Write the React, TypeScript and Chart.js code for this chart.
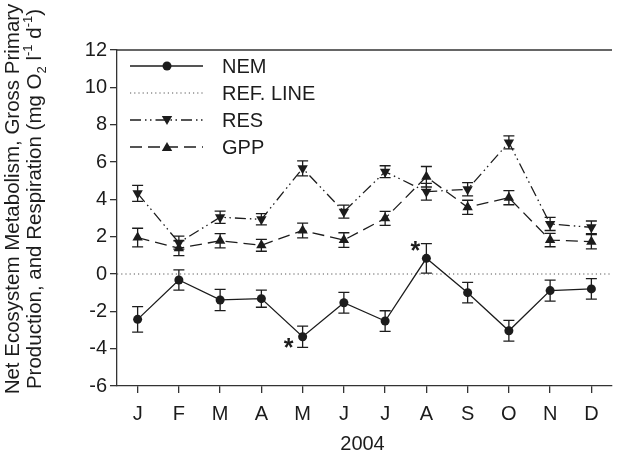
import React, { useEffect, useRef } from 'react';
import { Chart, registerables } from 'chart.js';

Chart.register(...registerables);

// ---- data ----
const months = ['J', 'F', 'M', 'A', 'M', 'J', 'J', 'A', 'S', 'O', 'N', 'D'];
const nemValues = [-2.43, -0.32, -1.39, -1.32, -3.36, -1.54, -2.52, 0.84, -1.0, -3.04, -0.89, -0.8];
const nemErrors = [0.68, 0.54, 0.57, 0.46, 0.57, 0.56, 0.55, 0.79, 0.55, 0.56, 0.56, 0.55];
const resValues = [4.32, 1.68, 3.04, 2.93, 5.66, 3.34, 5.48, 4.41, 4.54, 7.05, 2.68, 2.5];
const resErrors = [0.43, 0.35, 0.33, 0.3, 0.4, 0.35, 0.32, 0.45, 0.36, 0.35, 0.35, 0.34];
const gppValues = [1.95, 1.38, 1.78, 1.54, 2.33, 1.82, 2.98, 5.21, 3.57, 4.09, 1.82, 1.73];
const gppErrors = [0.5, 0.4, 0.38, 0.32, 0.4, 0.39, 0.38, 0.55, 0.38, 0.38, 0.36, 0.38];
const refLineValue = 0;
const yMin = -6;
const yMax = 12;
const yStep = 2;
const legendLabels = ['NEM', 'REF. LINE', 'RES', 'GPP'];
const significantNem = [4, 7]; // months marked with *
const xTitle = '2004';

const FONT = '"Liberation Sans", Arial, sans-serif';
const INK = '#1c1c1c';

const RES_DASH = [11, 4, 1.5, 3.5, 1.5, 4];
const GPP_DASH = [12, 6];
const REF_DASH = [1.2, 3];

function drawMarker(ctx: CanvasRenderingContext2D, style: string, x: number, y: number, r: number) {
  ctx.beginPath();
  if (style === 'circle') {
    ctx.arc(x, y, r, 0, Math.PI * 2);
  } else {
    const rot = style === 'down' ? Math.PI : 0;
    for (let k = 0; k < 3; k++) {
      const a = rot + (k * 2 * Math.PI) / 3;
      const px = x + Math.sin(a) * r;
      const py = y - Math.cos(a) * r;
      if (k === 0) ctx.moveTo(px, py);
      else ctx.lineTo(px, py);
    }
    ctx.closePath();
  }
  ctx.fill();
}

const decorPlugin = {
  id: 'decor',
  beforeDatasetsDraw(chart: any) {
    const { ctx, chartArea, scales } = chart;
    const y0 = scales.y.getPixelForValue(refLineValue);
    ctx.save();
    ctx.strokeStyle = '#555';
    ctx.lineWidth = 1;
    ctx.setLineDash(REF_DASH);
    ctx.beginPath();
    ctx.moveTo(chartArea.left, y0);
    ctx.lineTo(chartArea.right, y0);
    ctx.stroke();
    ctx.restore();

    // error bars
    const sets = [
      { v: nemValues, e: nemErrors },
      { v: resValues, e: resErrors },
      { v: gppValues, e: gppErrors },
    ];
    ctx.save();
    ctx.strokeStyle = INK;
    ctx.lineWidth = 1.3;
    ctx.setLineDash([]);
    for (const s of sets) {
      s.v.forEach((val, i) => {
        const x = scales.x.getPixelForValue(i);
        const yt = scales.y.getPixelForValue(val + s.e[i]);
        const yb = scales.y.getPixelForValue(val - s.e[i]);
        ctx.beginPath();
        ctx.moveTo(x, yt);
        ctx.lineTo(x, yb);
        ctx.moveTo(x - 5.5, yt);
        ctx.lineTo(x + 5.5, yt);
        ctx.moveTo(x - 5.5, yb);
        ctx.lineTo(x + 5.5, yb);
        ctx.stroke();
      });
    }
    ctx.restore();
  },
  afterDraw(chart: any) {
    const { ctx, chartArea, scales } = chart;
    ctx.save();
    // top frame line
    ctx.strokeStyle = '#333';
    ctx.lineWidth = 1.3;
    ctx.beginPath();
    ctx.moveTo(chartArea.left, chartArea.top);
    ctx.lineTo(chartArea.right, chartArea.top);
    ctx.stroke();

    // legend
    const rows = [66, 93, 120, 147];
    const styles = [
      { dash: [], marker: 'circle', r: 4.5, color: INK, w: 1.3 },
      { dash: REF_DASH, marker: '', r: 0, color: '#555', w: 1 },
      { dash: RES_DASH, marker: 'down', r: 6, color: INK, w: 1.3 },
      { dash: GPP_DASH, marker: 'up', r: 6, color: INK, w: 1.3 },
    ];
    const lx0 = chartArea.left + 13;
    const lx1 = chartArea.left + 86;
    const lmx = chartArea.left + 50;
    legendLabels.forEach((lab, i) => {
      const st = styles[i];
      const y = rows[i];
      ctx.strokeStyle = st.color;
      ctx.lineWidth = st.w;
      ctx.setLineDash(st.dash);
      ctx.beginPath();
      ctx.moveTo(lx0, y);
      ctx.lineTo(lx1, y);
      ctx.stroke();
      ctx.setLineDash([]);
      ctx.fillStyle = INK;
      if (st.marker) drawMarker(ctx, st.marker, lmx, y + (st.marker === 'up' ? 1 : st.marker === 'down' ? -1 : 0), st.r);
      ctx.font = `20px ${FONT}`;
      ctx.textAlign = 'left';
      ctx.textBaseline = 'middle';
      ctx.fillText(lab, chartArea.left + 105, y + 1);
    });

    // asterisks
    ctx.font = `bold 25px ${FONT}`;
    ctx.textAlign = 'center';
    ctx.textBaseline = 'alphabetic';
    significantNem.forEach((i) => {
      const x = scales.x.getPixelForValue(i);
      const v = nemValues[i];
      let cx: number, cy: number;
      if (v < 0) {
        cx = x - 14;
        cy = scales.y.getPixelForValue(v) + 5;
      } else {
        cx = x - 11;
        cy = scales.y.getPixelForValue(v + nemErrors[i]) + 1;
      }
      ctx.fillText('*', cx, cy + 14);
    });

    // x title
    ctx.font = `20px ${FONT}`;
    ctx.textAlign = 'center';
    ctx.textBaseline = 'alphabetic';
    ctx.fillStyle = INK;
    ctx.fillText(xTitle, (chartArea.left + chartArea.right) / 2 - 2, 450);

    // y title (rotated, two lines, with sub/superscripts)
    const yc = 199;
    const main = 20.5;
    const small = 13;
    ctx.save();
    ctx.translate(19, yc);
    ctx.rotate(-Math.PI / 2);
    ctx.font = `${main}px ${FONT}`;
    ctx.textAlign = 'center';
    ctx.fillText('Net Ecosystem Metabolism, Gross Primary', 0, 0);
    ctx.restore();

    const parts: { t: string; s: number; dy: number }[] = [
      { t: 'Production, and Respiration (mg O', s: main, dy: 0 },
      { t: '2', s: small, dy: 5 },
      { t: ' l', s: main, dy: 0 },
      { t: '-1', s: small, dy: -9 },
      { t: ' d', s: main, dy: 0 },
      { t: '-1', s: small, dy: -9 },
      { t: ')', s: main, dy: 0 },
    ];
    let total = 0;
    for (const p of parts) {
      ctx.font = `${p.s}px ${FONT}`;
      total += ctx.measureText(p.t).width;
    }
    ctx.save();
    ctx.translate(41, yc);
    ctx.rotate(-Math.PI / 2);
    ctx.textAlign = 'left';
    let cur = -total / 2;
    for (const p of parts) {
      ctx.font = `${p.s}px ${FONT}`;
      ctx.fillText(p.t, cur, p.dy);
      cur += ctx.measureText(p.t).width;
    }
    ctx.restore();

    ctx.restore();
  },
};

export default function App() {
  const ref = useRef<HTMLCanvasElement | null>(null);
  useEffect(() => {
    document.body.style.margin = '0';
    const canvas = ref.current;
    if (!canvas) return;
    const chart = new Chart(canvas, {
      type: 'line',
      data: {
        labels: months,
        datasets: [
          {
            label: 'NEM',
            data: nemValues,
            borderColor: INK,
            backgroundColor: INK,
            borderWidth: 1.3,
            pointStyle: 'circle',
            pointRadius: 4.5,
            pointBorderWidth: 0,
            tension: 0,
          },
          {
            label: 'RES',
            data: resValues,
            borderColor: INK,
            backgroundColor: INK,
            borderWidth: 1.3,
            borderDash: RES_DASH,
            pointStyle: 'triangle',
            rotation: 180,
            pointRadius: 6,
            pointBorderWidth: 0,
            tension: 0,
          },
          {
            label: 'GPP',
            data: gppValues,
            borderColor: INK,
            backgroundColor: INK,
            borderWidth: 1.3,
            borderDash: GPP_DASH,
            pointStyle: 'triangle',
            pointRadius: 6,
            pointBorderWidth: 0,
            tension: 0,
          },
        ],
      },
      options: {
        responsive: false,
        animation: false,
        layout: { padding: { top: 50, left: 0, right: 0, bottom: 0 } },
        plugins: { legend: { display: false }, tooltip: { enabled: false }, title: { display: false } },
        scales: {
          x: {
            type: 'category',
            offset: true,
            grid: { display: true, drawOnChartArea: false, drawTicks: true, tickLength: 7, color: '#333', lineWidth: 1.3, offset: false },
            border: { display: true, color: '#333', width: 1.3 },
            ticks: { color: INK, font: { family: FONT, size: 20 }, padding: 9, maxRotation: 0, autoSkip: false },
            afterFit: (s: any) => { s.height = 79; },
          },
          y: {
            min: yMin,
            max: yMax,
            grid: { display: true, drawOnChartArea: false, drawTicks: true, tickLength: 7, color: '#333', lineWidth: 1.3 },
            border: { display: true, color: '#333', width: 1.3 },
            ticks: { stepSize: yStep, color: INK, font: { family: FONT, size: 20 }, padding: 3 },
            afterFit: (s: any) => { s.width = 117; },
          },
        },
      },
      plugins: [decorPlugin],
    });
    return () => chart.destroy();
  }, []);
  return <canvas ref={ref} width={618} height={465} style={{ display: 'block' }} />;
}
